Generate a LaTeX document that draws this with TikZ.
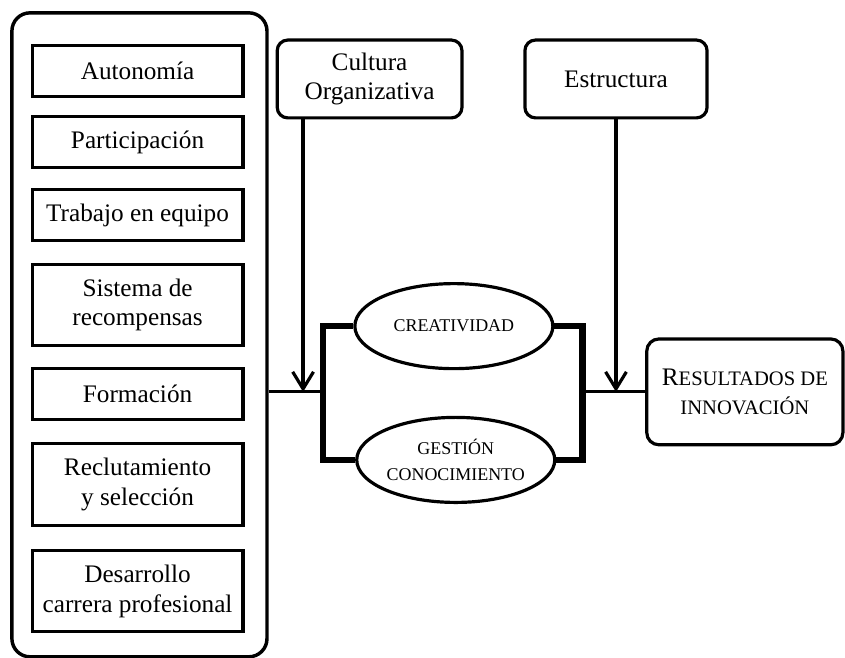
\documentclass[tikz,border=0pt]{standalone}
\usepackage{fontspec}
\setmainfont{Liberation Serif}
\usetikzlibrary{shapes.geometric,arrows.meta}

\begin{document}
\begin{tikzpicture}[
  font=\fontsize{19}{22.5}\selectfont,
  grp/.style={draw, line width=2.6pt, rounded corners=4.8mm,
    minimum width=67.5mm, minimum height=170.4mm},
  item/.style={draw, line width=2.4pt, align=center, minimum width=55.8mm,
    minimum height=13.5mm, inner sep=1pt},
  tall/.style={item, minimum height=21.5mm},
  fac/.style={draw, line width=2.4pt, rounded corners=2.8mm, align=center,
    minimum height=20.6mm},
  var/.style={draw, ellipse, line width=2.4pt, minimum width=52.4mm,
    minimum height=22.5mm, inner sep=0pt, align=center,
    font=\fontsize{13.5}{20}\selectfont},
  conn/.style={line width=2.4pt},
  arr/.style={conn, -{Straight Barb[length=4.5mm, width=5.5mm]}},
  brk/.style={line width=5pt}
]
\useasboundingbox (0mm,0mm) rectangle (223.6mm,-174.1mm);

\node[grp] (grp) at (36.9mm,-88.6mm) {};
\node[item] (aut) at (36.4mm,-18.7mm) {Autonomía};
\node[item] (par) at (36.4mm,-37.6mm) {Participación};
\node[item] (equ) at (36.4mm,-56.9mm) {Trabajo en equipo};
\node[tall] (rec) at (36.4mm,-80.7mm) {Sistema de\\ recompensas};
\node[item] (for) at (36.4mm,-104.2mm) {Formación};
\node[tall] (sel) at (36.4mm,-128.2mm) {Reclutamiento\\ y selección};
\node[tall] (car) at (36.4mm,-156.4mm) {Desarrollo\\ carrera profesional};

\node[fac, minimum width=48.9mm] (cult) at (97.8mm,-20.9mm)
  {Cultura\\ Organizativa};
\node[fac, minimum width=48.2mm] (estr) at (163.0mm,-20.9mm) {Estructura};

\node[var] (crea) at (120.1mm,-86.3mm) {CREATIVIDAD};
\node[var] (gest) at (120.6mm,-121.7mm) {GESTIÓN\\ CONOCIMIENTO};

\node[fac, rounded corners=3.2mm, minimum width=51.9mm, minimum height=28mm]
  (res) at (197.1mm,-103.7mm)
  {R{\fontsize{15.5}{20}\selectfont ESULTADOS DE}\\
   {\fontsize{15.5}{20}\selectfont INNOVACIÓN}};

\coordinate (jl) at (85.5mm,-103.7mm);
\coordinate (jr) at (154.2mm,-103.7mm);
\coordinate (cin) at (80.2mm,-103.7mm);

\draw[conn] (grp.east |- jl) -- (jl);
\draw[brk] (crea.west) -| (jl) |- (gest.west);
\draw[brk] (crea.east) -| (jr) |- (gest.east);
\draw[conn] (jr) -- (res.west);
\draw[arr] (cin |- cult.south) -- (cin);
\draw[arr] (estr.south) -- (estr.south |- jr);
\end{tikzpicture}
\end{document}
